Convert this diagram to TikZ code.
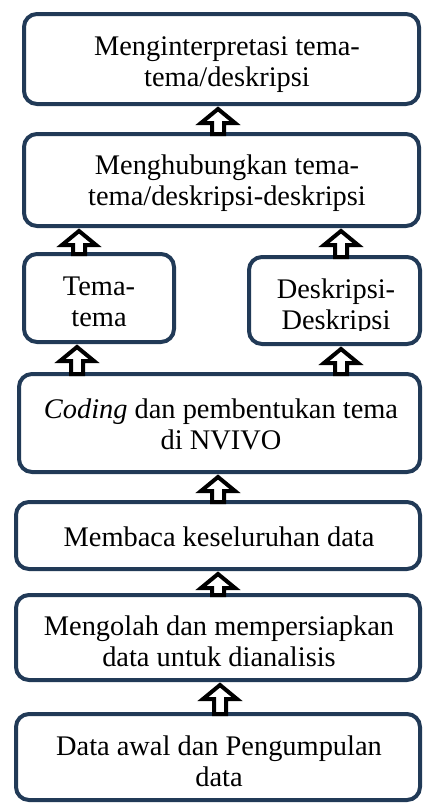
\documentclass[tikz,border=0pt]{standalone}
\usepackage{fontspec}
\setmainfont{Liberation Serif}
\usetikzlibrary{calc}
\definecolor{navy}{HTML}{213A57}
\newcommand\uparr[3]{\draw[barrow] let \p1=(#2.north), \p2=(#3.south) in
  (#1pt-6pt,\y1) -- (#1pt-6pt,\y2-19pt) -- (#1pt-17pt,\y2-19pt) -- (#1pt,\y2-5pt)
  -- (#1pt+17pt,\y2-19pt) -- (#1pt+6pt,\y2-19pt) -- (#1pt+6pt,\y1) -- cycle;}
\begin{document}
\begin{tikzpicture}[x=1pt,y=-1pt,
  box/.style={draw=navy, line width=4pt, rounded corners=13pt, inner sep=0pt, outer sep=0pt},
  txt/.style={font=\fontsize{28.4}{31}\selectfont, align=center, inner sep=0pt, outer sep=0pt},
  barrow/.style={draw=black, fill=white, line width=4pt, line join=miter}]
\fill[white] (0,0) rectangle (423,803);
\useasboundingbox (0,0) rectangle (423,803);
% boxes
\node[box, minimum width=395pt, minimum height=90pt] (b1) at (221.5,59) {};
\node[box, minimum width=395pt, minimum height=92pt] (b2) at (221.5,180) {};
\node[box, minimum width=150pt, minimum height=88pt] (bt) at (99,298) {};
\node[box, minimum width=171pt, minimum height=87pt] (bd) at (334.5,300.5) {};
\node[box, minimum width=401pt, minimum height=98pt] (bc) at (219.5,423) {};
\node[box, minimum width=404pt, minimum height=67pt] (bm) at (218,535.5) {};
\node[box, minimum width=404pt, minimum height=85pt] (bo) at (218,637.5) {};
\node[box, minimum width=404pt, minimum height=86pt] (bs) at (218,757) {};
% texts
\node[txt] (t1) at (227,64.3) {\strut Menginterpretasi tema-\\\strut tema/deskripsi};
\node[txt] (t2) at (227,183.3) {\strut Menghubungkan tema-\\\strut tema/deskripsi-deskripsi};
\node[txt] (tt) at (99,304.3) {\strut Tema-\\\strut tema};
\begin{scope}
\clip (240,250) rectangle (423,330);
\node[txt] (td) at (336,307.3) {\strut Deskripsi-\\\strut Deskripsi};
\end{scope}
\node[txt] (tc) at (221,427.3) {\strut\textit{Coding} dan pembentukan tema\\\strut di NVIVO};
\node[txt] (tm) at (219,539.8) {\strut Membaca keseluruhan data};
\begin{scope}
\clip (0,590) rectangle (423,667);
\node[txt] (to) at (219,644.3) {\strut Mengolah dan mempersiapkan\\\strut data untuk dianalisis};
\end{scope}
\node[txt] (ts) at (219,764.3) {\strut Data awal dan Pengumpulan\\\strut data};
% arrows
\uparr{218}{b2}{b1}
\uparr{79}{bt}{b2}
\uparr{341}{bd}{b2}
\uparr{77}{bc}{bt}
\uparr{341}{bc}{bd}
\uparr{218}{bm}{bc}
\uparr{218}{bo}{bm}
\uparr{220}{bs}{bo}
\end{tikzpicture}
\end{document}
